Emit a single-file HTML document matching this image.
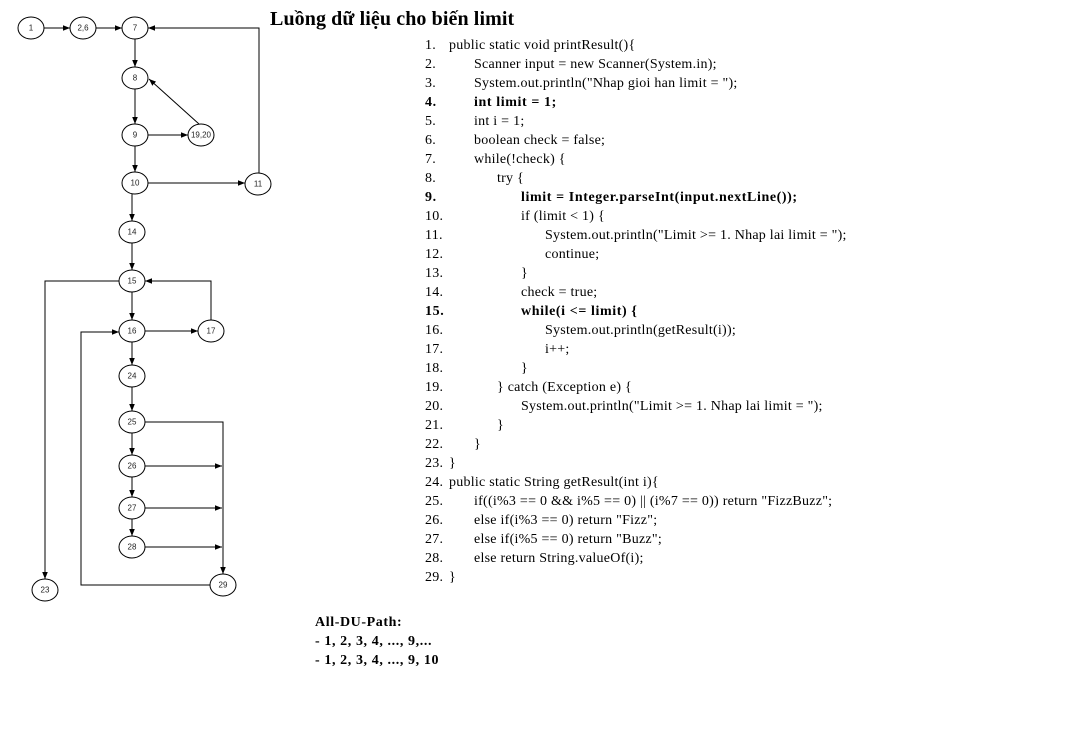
<!DOCTYPE html>
<html><head><meta charset="utf-8"><style>
html,body{margin:0;padding:0;background:#fff;}
svg{display:block}
.n{font-family:"Liberation Sans",sans-serif;font-size:8px;fill:#222;text-anchor:middle;dominant-baseline:central}
.c{font-family:"Liberation Serif",serif;font-size:14px;fill:#000;letter-spacing:0.25px}
.b{font-weight:bold;letter-spacing:0.6px}
</style></head><body>
<svg width="1068" height="734" viewBox="0 0 1068 734" xmlns="http://www.w3.org/2000/svg">
<defs><marker id="a" viewBox="0 0 10 10" refX="10" refY="5" markerWidth="7" markerHeight="7" orient="auto"><path d="M0,1 L10,5 L0,9 z" fill="#000"/></marker></defs>
<g stroke="#000" stroke-width="1" fill="none" marker-end="url(#a)">
<line x1="44" y1="28" x2="70" y2="28"/>
<line x1="96" y1="28" x2="122" y2="28"/>
<line x1="135" y1="39" x2="135" y2="67"/>
<line x1="135" y1="89" x2="135" y2="124"/>
<line x1="148" y1="135" x2="188" y2="135"/>
<line x1="199" y1="124" x2="149" y2="79"/>
<line x1="135" y1="146" x2="135" y2="172"/>
<line x1="148" y1="183" x2="245" y2="183"/>
<polyline points="259,173 259,28 148,28"/>
<line x1="132" y1="193" x2="132" y2="221"/>
<line x1="132" y1="243" x2="132" y2="270"/>
<polyline points="119,281 45,281 45,579"/>
<polyline points="211,320 211,281 145,281"/>
<line x1="132" y1="292" x2="132" y2="320"/>
<line x1="145" y1="331" x2="198" y2="331"/>
<line x1="132" y1="342" x2="132" y2="365"/>
<line x1="132" y1="387" x2="132" y2="411"/>
<polyline points="145,422 223,422 223,574"/>
<line x1="132" y1="433" x2="132" y2="455"/>
<line x1="145" y1="466" x2="222" y2="466"/>
<line x1="132" y1="477" x2="132" y2="497"/>
<line x1="145" y1="508" x2="222" y2="508"/>
<line x1="132" y1="519" x2="132" y2="536"/>
<line x1="145" y1="547" x2="222" y2="547"/>
<polyline points="210,585 81,585 81,332 119,332"/>
</g>
<g stroke="#000" stroke-width="1" fill="#fff">
<ellipse cx="31" cy="28" rx="13" ry="11"/><ellipse cx="83" cy="28" rx="13" ry="11"/>
<ellipse cx="135" cy="28" rx="13" ry="11"/><ellipse cx="135" cy="78" rx="13" ry="11"/>
<ellipse cx="135" cy="135" rx="13" ry="11"/><ellipse cx="201" cy="135" rx="13" ry="11"/>
<ellipse cx="135" cy="183" rx="13" ry="11"/><ellipse cx="258" cy="184" rx="13" ry="11"/>
<ellipse cx="132" cy="232" rx="13" ry="11"/><ellipse cx="132" cy="281" rx="13" ry="11"/>
<ellipse cx="132" cy="331" rx="13" ry="11"/><ellipse cx="211" cy="331" rx="13" ry="11"/>
<ellipse cx="132" cy="376" rx="13" ry="11"/><ellipse cx="132" cy="422" rx="13" ry="11"/>
<ellipse cx="132" cy="466" rx="13" ry="11"/><ellipse cx="132" cy="508" rx="13" ry="11"/>
<ellipse cx="132" cy="547" rx="13" ry="11"/><ellipse cx="223" cy="585" rx="13" ry="11"/>
<ellipse cx="45" cy="590" rx="13" ry="11"/>
</g>
<g class="n">
<text x="31" y="28">1</text><text x="83" y="28">2,6</text><text x="135" y="28">7</text>
<text x="135" y="78">8</text><text x="135" y="135">9</text><text x="201" y="135">19,20</text>
<text x="135" y="183">10</text><text x="258" y="184">11</text><text x="132" y="232">14</text>
<text x="132" y="281">15</text><text x="132" y="331">16</text><text x="211" y="331">17</text>
<text x="132" y="376">24</text><text x="132" y="422">25</text><text x="132" y="466">26</text>
<text x="132" y="508">27</text><text x="132" y="547">28</text><text x="223" y="585">29</text>
<text x="45" y="590">23</text>
</g>
<text x="270" y="25" style="font-family:'Liberation Serif',serif;font-size:20px;font-weight:bold;letter-spacing:0.1px">Luồng dữ liệu cho biến limit</text>
<g class="c">
<text x="425" y="49">1.</text><text x="449" y="49">public static void printResult(){</text>
<text x="425" y="68">2.</text><text x="474" y="68">Scanner input = new Scanner(System.in);</text>
<text x="425" y="87">3.</text><text x="474" y="87">System.out.println("Nhap gioi han limit = ");</text>
<text x="425" y="106" class="b">4.</text><text x="474" y="106" class="b">int limit = 1;</text>
<text x="425" y="125">5.</text><text x="474" y="125">int i = 1;</text>
<text x="425" y="144">6.</text><text x="474" y="144">boolean check = false;</text>
<text x="425" y="163">7.</text><text x="474" y="163">while(!check) {</text>
<text x="425" y="182">8.</text><text x="497" y="182">try {</text>
<text x="425" y="201" class="b">9.</text><text x="521" y="201" class="b">limit = Integer.parseInt(input.nextLine());</text>
<text x="425" y="220">10.</text><text x="521" y="220">if (limit &lt; 1) {</text>
<text x="425" y="239">11.</text><text x="545" y="239">System.out.println("Limit &gt;= 1. Nhap lai limit = ");</text>
<text x="425" y="258">12.</text><text x="545" y="258">continue;</text>
<text x="425" y="277">13.</text><text x="521" y="277">}</text>
<text x="425" y="296">14.</text><text x="521" y="296">check = true;</text>
<text x="425" y="315" class="b">15.</text><text x="521" y="315" class="b">while(i &lt;= limit) {</text>
<text x="425" y="334">16.</text><text x="545" y="334">System.out.println(getResult(i));</text>
<text x="425" y="353">17.</text><text x="545" y="353">i++;</text>
<text x="425" y="372">18.</text><text x="521" y="372">}</text>
<text x="425" y="391">19.</text><text x="497" y="391">} catch (Exception e) {</text>
<text x="425" y="410">20.</text><text x="521" y="410">System.out.println("Limit &gt;= 1. Nhap lai limit = ");</text>
<text x="425" y="429">21.</text><text x="497" y="429">}</text>
<text x="425" y="448">22.</text><text x="474" y="448">}</text>
<text x="425" y="467">23.</text><text x="449" y="467">}</text>
<text x="425" y="486">24.</text><text x="449" y="486">public static String getResult(int i){</text>
<text x="425" y="505">25.</text><text x="474" y="505">if((i%3 == 0 &amp;&amp; i%5 == 0) || (i%7 == 0)) return "FizzBuzz";</text>
<text x="425" y="524">26.</text><text x="474" y="524">else if(i%3 == 0) return "Fizz";</text>
<text x="425" y="543">27.</text><text x="474" y="543">else if(i%5 == 0) return "Buzz";</text>
<text x="425" y="562">28.</text><text x="474" y="562">else return String.valueOf(i);</text>
<text x="425" y="581">29.</text><text x="449" y="581">}</text>
<text x="315" y="626" class="b">All-DU-Path:</text>
<text x="315" y="645" class="b">- 1, 2, 3, 4, ..., 9,...</text>
<text x="315" y="664" class="b">- 1, 2, 3, 4, ..., 9, 10</text>
</g>
</svg>
</body></html>
